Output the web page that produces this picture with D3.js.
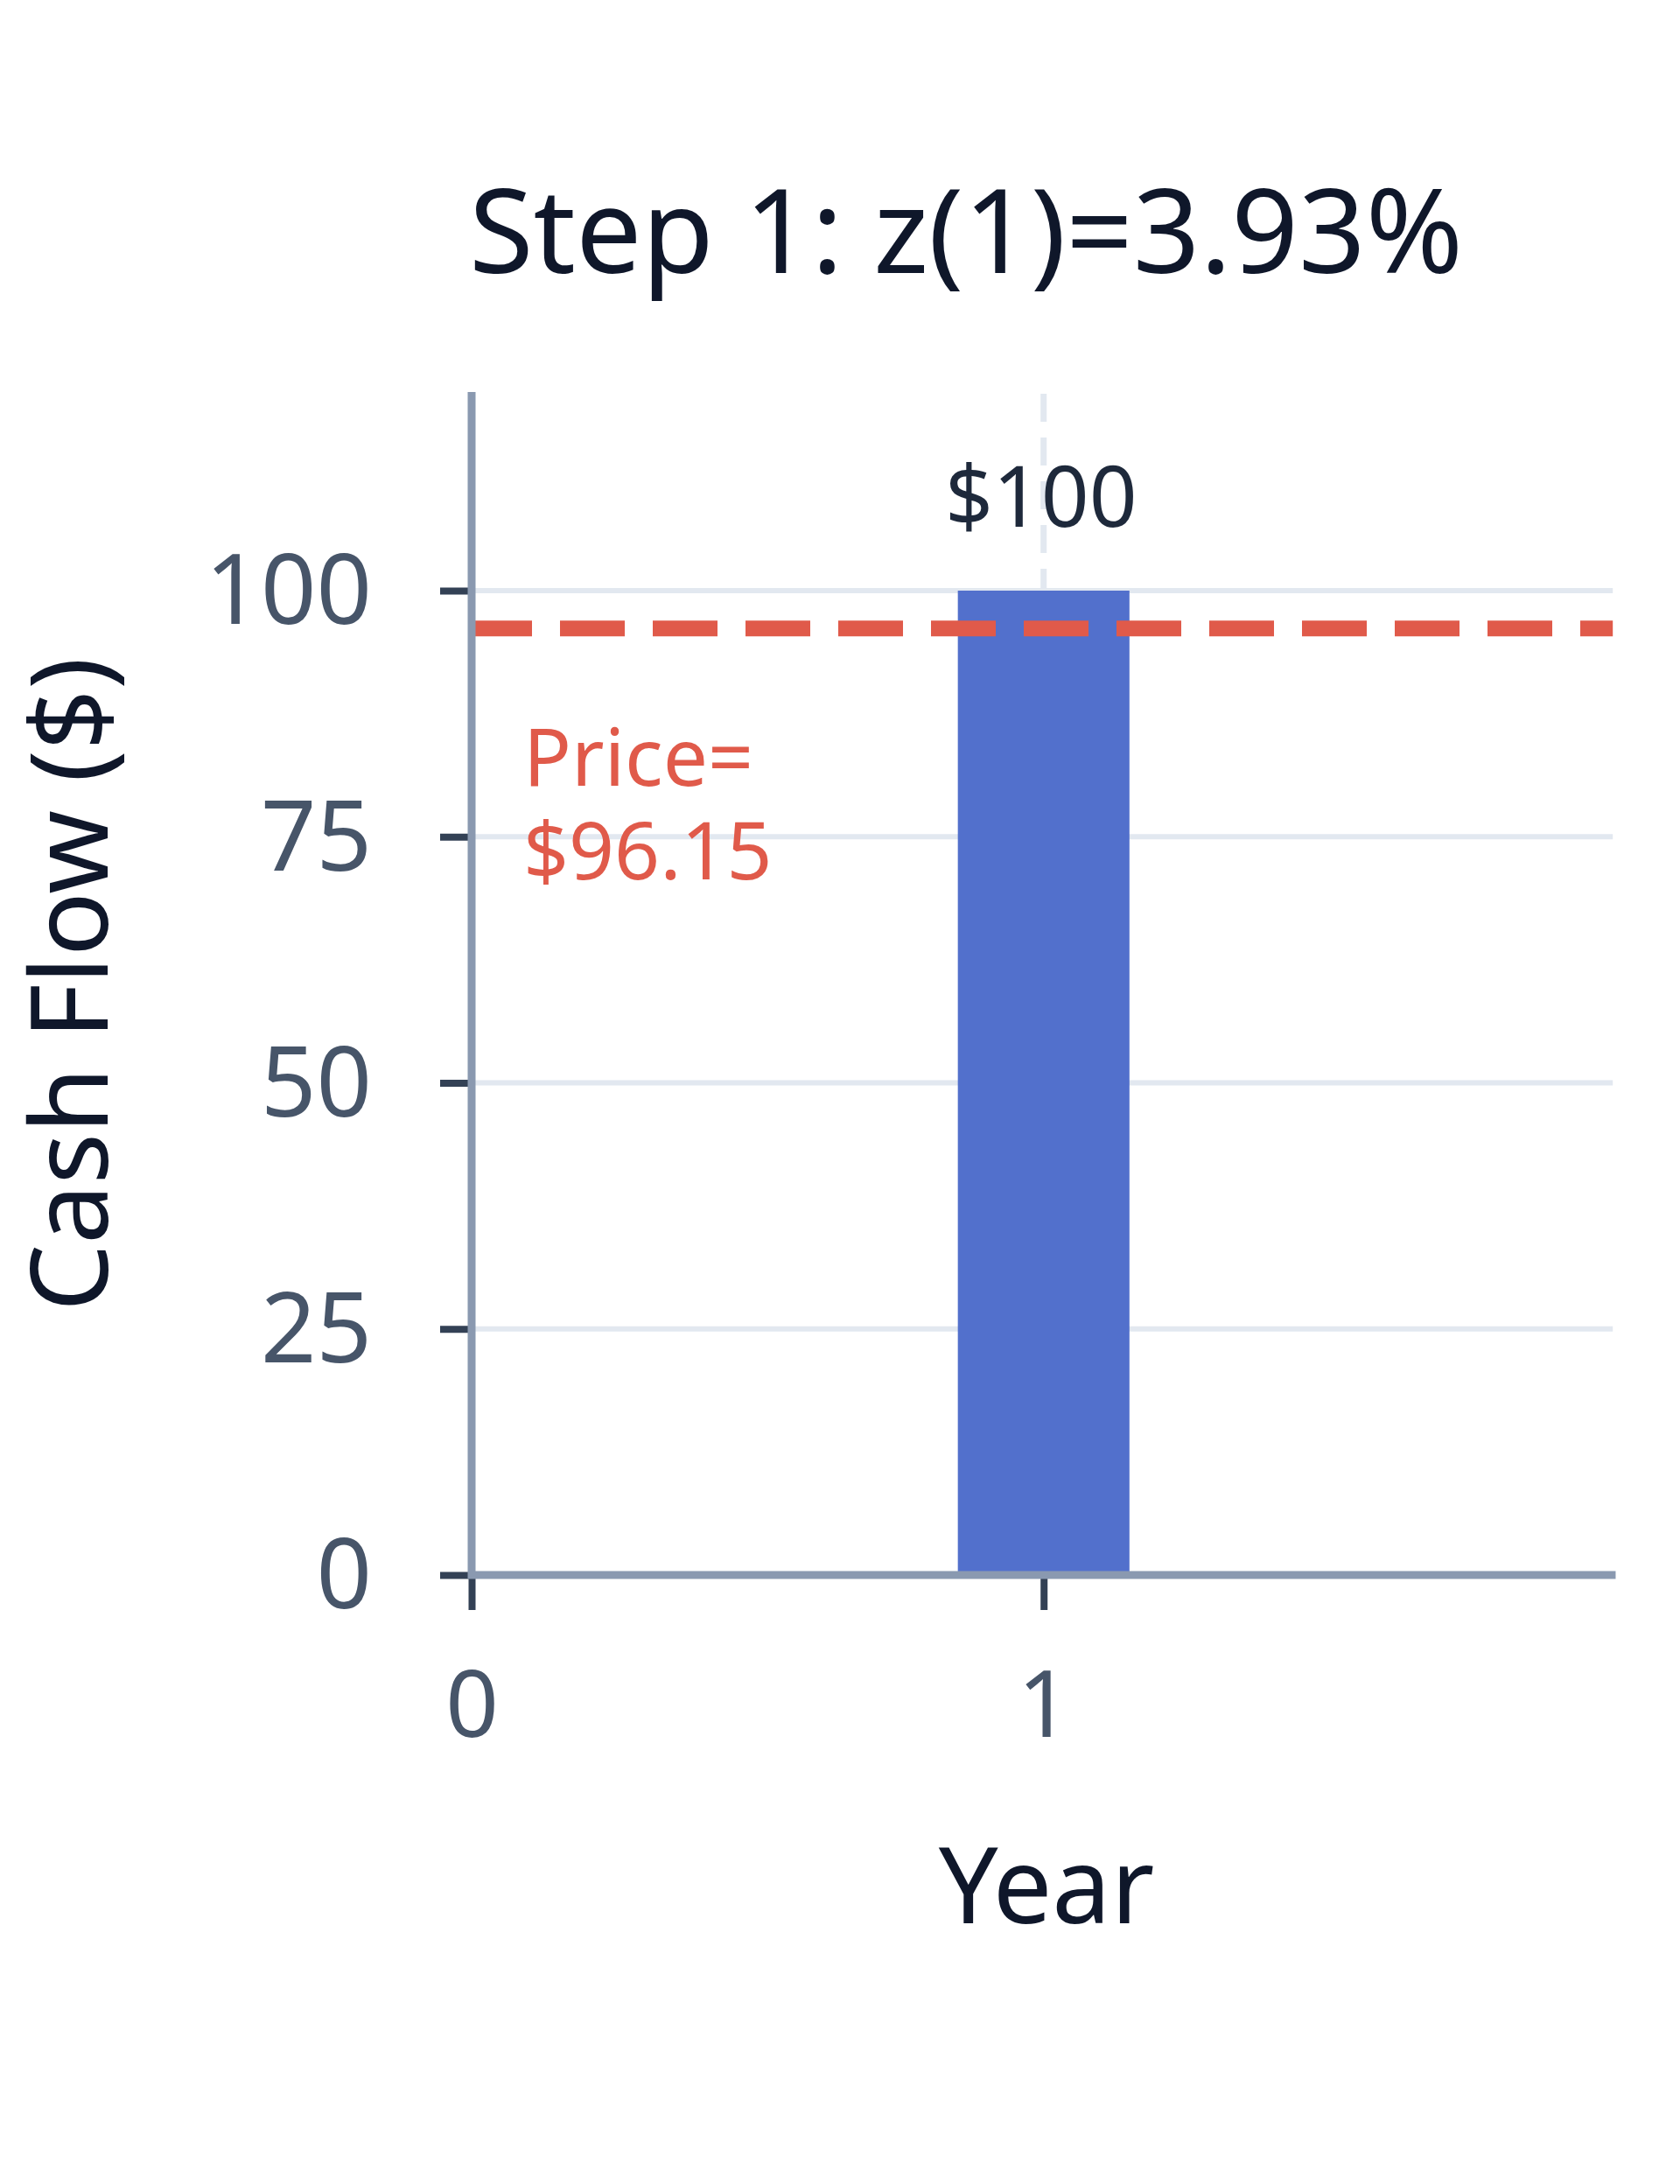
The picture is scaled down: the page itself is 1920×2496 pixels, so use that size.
<!DOCTYPE html>
<html>
<head>
<meta charset="utf-8">
<script src="https://cdn.jsdelivr.net/npm/d3@7"></script>
<style>
  html, body { margin: 0; padding: 0; background: #ffffff; }
  svg { display: block; font-family: "Noto Sans", "Open Sans", sans-serif; }
</style>
</head>
<body>
<svg id="chart" width="1920" height="2496"></svg>
<script>
// ---- data ----
const years = [1];
const cashFlows = [100];
const barLabels = ["$100"];
const price = [96.15];
const priceLabel = ["Price=", "$96.15"];
const xTicks = [0, 1];
const yTicks = [0, 25, 50, 75, 100];
const titleText = "Step 1: z(1)=3.93%";
const xTitle = "Year";
const yTitle = "Cash Flow ($)";

(function () {
// ---- layout ----
const svg = d3.select("#chart");
const mLeft = 539, mRight = 1853, mTop = 450, mBottom = 1800;
const x = d3.scaleLinear().domain([0, 2.01]).range([mLeft, mRight]);
const y = d3.scaleLinear().domain([0, 120]).range([mBottom, mTop]);
const barHalf = 0.15;

const axisCol = "#8a99b0", tickCol = "#334155", gridCol = "#e2e8f0";
const labelCol = "#475569", darkCol = "#0f172a", red = "#e05a4a", barCol = "#5270cc";

// gridlines
svg.append("g").selectAll("line").data(yTicks.filter(d => d > 0)).join("line")
  .attr("x1", mLeft).attr("x2", x(1.995))
  .attr("y1", d => y(d)).attr("y2", d => y(d))
  .attr("stroke", gridCol).attr("stroke-width", 6);
svg.append("g").selectAll("line").data(xTicks.filter(d => d > 0)).join("line")
  .attr("x1", d => x(d)).attr("x2", d => x(d))
  .attr("y1", mTop).attr("y2", mBottom)
  .attr("stroke", gridCol).attr("stroke-width", 7)
  .attr("stroke-dasharray", "32,18");

// bars
svg.append("g").selectAll("rect").data(years).join("rect")
  .attr("x", d => x(d - barHalf))
  .attr("width", d => x(d + barHalf) - x(d - barHalf))
  .attr("y", (d, i) => y(cashFlows[i]))
  .attr("height", (d, i) => y(0) - y(cashFlows[i]))
  .attr("fill", barCol);

// bar labels
svg.append("g").selectAll("text").data(years).join("text")
  .attr("x", d => x(d) - 3)
  .attr("y", (d, i) => y(cashFlows[i]) - 73)
  .attr("text-anchor", "middle")
  .attr("font-size", 96)
  .attr("fill", "#1e293b")
  .text((d, i) => barLabels[i]);

// price line
svg.append("line")
  .attr("x1", mLeft).attr("x2", x(1.995))
  .attr("y1", y(price[0])).attr("y2", y(price[0]))
  .attr("stroke", red).attr("stroke-width", 18)
  .attr("stroke-dasharray", "74,32").attr("stroke-dashoffset", 5);

const pl = svg.append("text").attr("font-size", 91).attr("fill", red);
pl.selectAll("tspan").data(priceLabel).join("tspan")
  .attr("x", 598)
  .attr("y", (d, i) => 898 + i * 107)
  .text(d => d);

// axes
const yAxis = d3.axisLeft(y).tickValues(yTicks).tickSize(36).tickPadding(78);
const yg = svg.append("g").attr("transform", `translate(${mLeft},0)`).call(yAxis);
yg.select(".domain").remove();
yg.selectAll(".tick line").attr("stroke", tickCol).attr("stroke-width", 8);
yg.selectAll(".tick text").attr("font-size", 111).attr("fill", labelCol)
  .attr("font-family", "Noto Sans").attr("dy", "0.34em");

const xAxis = d3.axisBottom(x).tickValues(xTicks).tickSize(40).tickPadding(70)
  .tickFormat(d3.format("d"));
const xg = svg.append("g").attr("transform", `translate(0,${mBottom})`).call(xAxis);
xg.select(".domain").remove();
xg.selectAll(".tick line").attr("stroke", tickCol).attr("stroke-width", 8);
xg.selectAll(".tick text").attr("font-size", 106).attr("fill", labelCol)
  .attr("font-family", "Noto Sans").attr("dy", "0.71em");

// axis lines
svg.append("line").attr("x1", mLeft).attr("x2", mLeft).attr("y1", mTop - 2).attr("y2", mBottom + 4)
  .attr("stroke", axisCol).attr("stroke-width", 9);
svg.append("line").attr("x1", mLeft - 4).attr("x2", x(2.0)).attr("y1", mBottom).attr("y2", mBottom)
  .attr("stroke", axisCol).attr("stroke-width", 9);

// titles
svg.append("text").attr("x", 1104).attr("y", 312).attr("text-anchor", "middle")
  .attr("font-size", 134).attr("fill", darkCol).text(titleText);
svg.append("text").attr("x", (mLeft + mRight) / 2).attr("y", 2198).attr("text-anchor", "middle")
  .attr("font-size", 120).attr("fill", darkCol).text(xTitle);
svg.append("text").attr("transform", `translate(123,${(mTop + mBottom) / 2}) rotate(-90)`)
  .attr("text-anchor", "middle")
  .attr("font-size", 122).attr("fill", darkCol).text(yTitle);
})();
</script>
</body>
</html>
